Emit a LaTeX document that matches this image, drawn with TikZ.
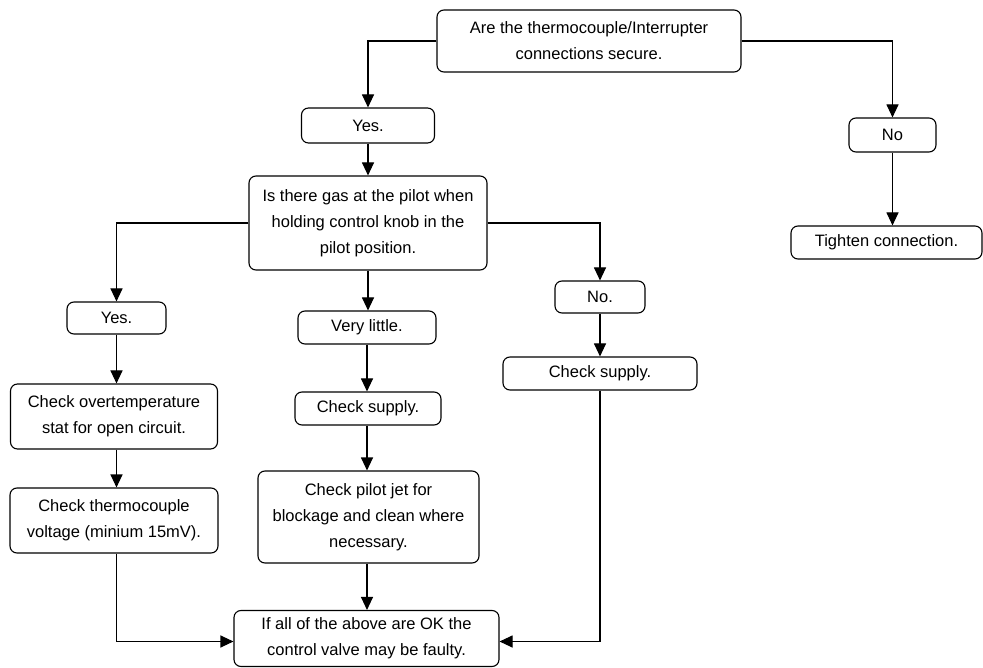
\documentclass[tikz,border=0pt]{standalone}
\usepackage{fontspec}
\setmainfont{Liberation Sans}
\usetikzlibrary{arrows.meta}
\begin{document}
\begin{tikzpicture}[x=1pt,y=-1pt,
  box/.style={draw, line width=1.1pt, rounded corners=7pt, align=center, inner sep=0pt,
    font=\fontsize{16.5}{26}\selectfont},
  conn/.style={line width=1.1pt, -{Triangle[length=13pt,width=12pt]}},
  plain/.style={line width=1.1pt}]
\useasboundingbox (0,0) rectangle (983,668);
\node[box, minimum width=304pt, minimum height=62pt] (top) at (589,41) {Are the thermocouple/Interrupter\\connections secure.};
\node[box, minimum width=133pt, minimum height=35pt] (yes1) at (368,125.5) {Yes.};
\node[box, minimum width=87pt, minimum height=34pt] (no1) at (892.5,135) {No};
\node[box, minimum width=238pt, minimum height=94pt] (gas) at (368,223) {Is there gas at the pilot when\\holding control knob in the\\pilot position.};
\node[box, minimum width=191pt, minimum height=33pt] (tighten) at (886.5,242.5) {Tighten connection.};
\node[box, minimum width=99pt, minimum height=32pt] (yes2) at (116.5,318) {Yes.};
\node[box, minimum width=138pt, minimum height=33pt] (little) at (367,327.5) {Very little.};
\node[box, minimum width=90pt, minimum height=32pt] (no2) at (600,297) {No.};
\node[box, minimum width=207pt, minimum height=65pt] (over) at (114,416.5) {Check overtemperature\\stat for open circuit.};
\node[box, minimum width=146pt, minimum height=33pt] (supply1) at (368,408.5) {Check supply.};
\node[box, minimum width=194pt, minimum height=33pt] (supply2) at (600,373.5) {Check supply.};
\node[box, minimum width=208pt, minimum height=65pt] (thermo) at (114,520.5) {Check thermocouple\\voltage (minium 15mV).};
\node[box, minimum width=221pt, minimum height=92pt] (jet) at (368.5,517) {Check pilot jet for\\blockage and clean where\\necessary.};
\node[box, minimum width=265pt, minimum height=56pt] (final) at (366.5,638.5) {If all of the above are OK the\\control valve may be faulty.};

\draw[conn] (top.west) -| (yes1.north);
\draw[conn] (top.east) -| (no1.north);
\draw[conn] (no1.south) -- (no1.south |- tighten.north);
\draw[conn] (yes1.south) -- (yes1.south |- gas.north);
\draw[conn] (gas.west) -| (yes2.north);
\draw[conn] (gas.east) -| (no2.north);
\draw[conn] (gas.south) -- (gas.south |- little.north);
\draw[conn] (yes2.south) -- (yes2.south |- over.north);
\draw[conn] (yes2.south |- over.south) -- (yes2.south |- thermo.north);
\draw[conn] (little.south) -- (little.south |- supply1.north);
\draw[conn] (little.south |- supply1.south) -- (little.south |- jet.north);
\draw[conn] (little.south |- jet.south) -- (little.south |- final.north);
\draw[conn] (no2.south) -- (no2.south |- supply2.north);
\draw[conn] (yes2.south |- thermo.south) |- ([yshift=-3pt]final.west);
\draw[conn] (supply2.south) |- ([yshift=-3pt]final.east);
\end{tikzpicture}
\end{document}
